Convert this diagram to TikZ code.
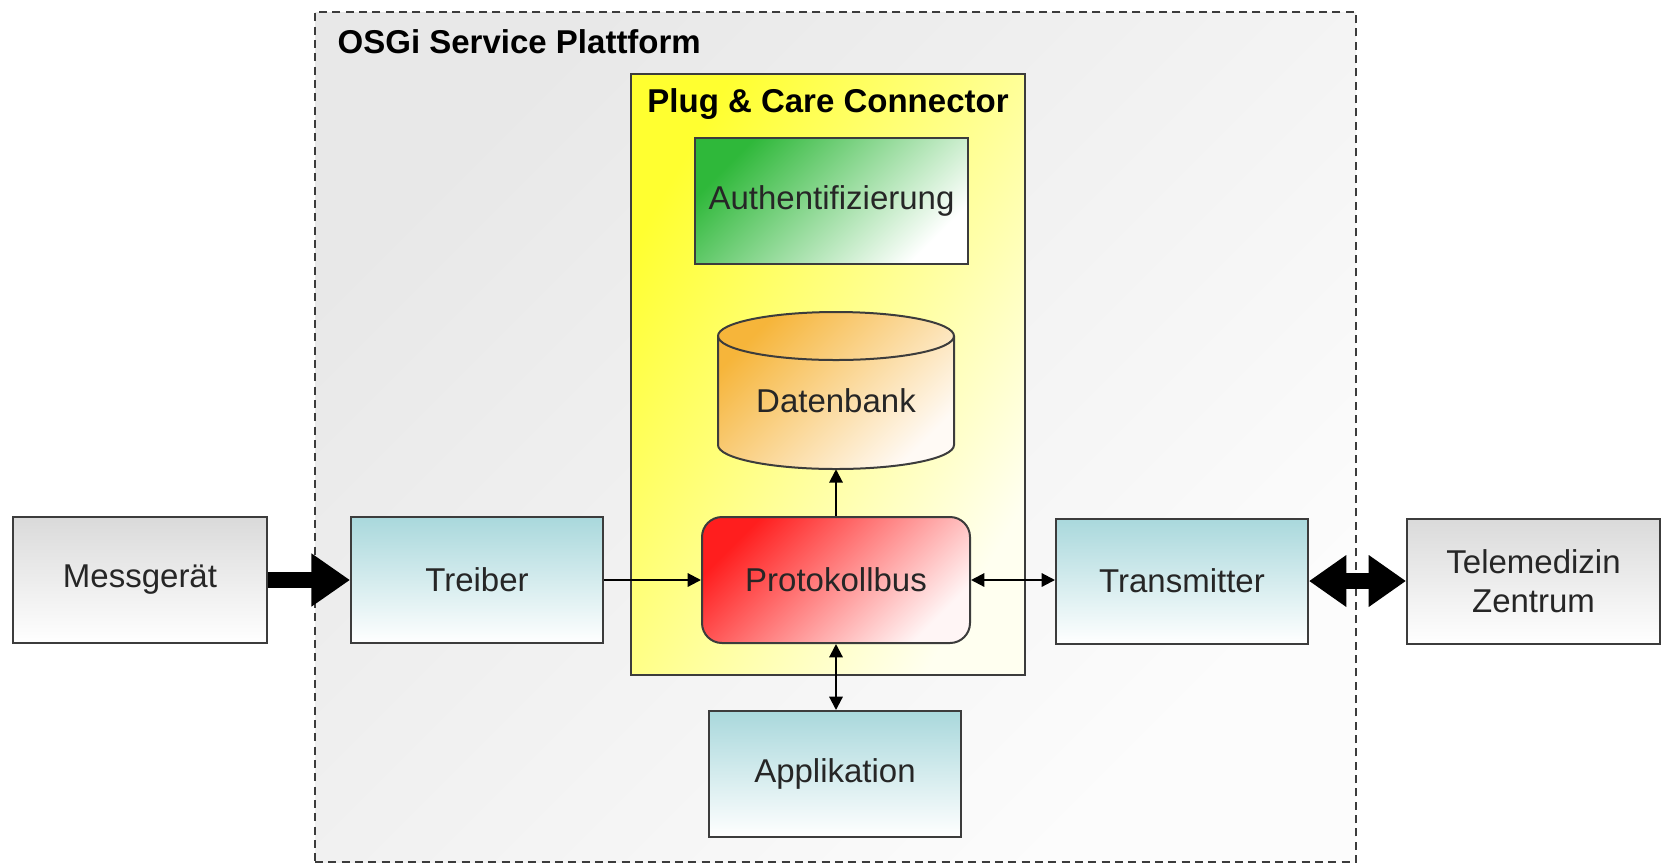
\documentclass[tikz,border=0pt]{standalone}
\usepackage{fontspec}
\setmainfont{Liberation Sans}
\usetikzlibrary{arrows.meta}
\definecolor{bordercol}{HTML}{3C3C3C}
\definecolor{textcol}{HTML}{262626}
\definecolor{tealtop}{HTML}{A9D8DC}
\definecolor{graytop}{HTML}{DADADA}
\definecolor{greentop}{HTML}{2FB83A}
\definecolor{orangetop}{HTML}{F6B53A}
\definecolor{redtop}{HTML}{FF1E1E}
\definecolor{yellowtop}{HTML}{FFFF30}
\definecolor{osgitop}{HTML}{E8E8E8}
\tikzset{
  bodyfont/.style={font=\fontsize{24.75}{29.25}\selectfont, text=textcol},
  basebox/.style={draw=bordercol, line width=1.5pt, bodyfont, align=center, inner sep=0pt},
  tealbox/.style={basebox, top color=tealtop, bottom color=white},
  graybox/.style={basebox, top color=graytop, bottom color=white},
  thinarrow/.style={line width=1.6pt, draw=black, -{Triangle[length=10pt,width=10pt]}},
  thinboth/.style={line width=1.6pt, draw=black, {Triangle[length=10pt,width=10pt]}-{Triangle[length=10pt,width=10pt]}},
  thickarrow/.style={line width=12pt, draw=black, -{Triangle[length=29pt,width=38pt]}},
  thickboth/.style={line width=12pt, draw=black, {Triangle[length=28pt,width=37pt]}-{Triangle[length=28pt,width=37pt]}},
  titlefont/.style={font=\fontsize{24.75}{29.25}\selectfont\bfseries, text=black},
}
\begin{document}
\begin{tikzpicture}[x=0.75pt,y=-0.75pt]
\useasboundingbox (0,0) rectangle (1662,865);
% OSGi platform
\node[draw=bordercol, line width=2pt, dash pattern=on 6pt off 4pt,
      top color=osgitop, bottom color=white!98!gray, shading angle=45,
      minimum width=780.75pt, minimum height=637.5pt, inner sep=0pt] (osgi) at (835.5,437) {};
\node[titlefont, anchor=west] (osgititle) at (333,42) {OSGi Service Plattform};
% Plug & Care
\node[draw=bordercol, line width=1.5pt, top color=yellowtop, bottom color=yellow!6!white, shading angle=60,
      minimum width=295.5pt, minimum height=450.75pt, inner sep=0pt] (plug) at (828,374.5) {};
\node[titlefont] (plugtitle) at (828,104) {Plug \& Care Connector};
% Datenbank cylinder
\path[draw=bordercol, line width=1.5pt, top color=orangetop, bottom color=orange!4!white, shading angle=45]
  (718,336) -- (718,445) arc[start angle=180, end angle=360, x radius=88.5pt, y radius=18pt]
  -- (954,336) arc[start angle=0, end angle=180, x radius=88.5pt, y radius=18pt] -- cycle;
\draw[bordercol, line width=1.5pt] (718,336) arc[start angle=180, end angle=360, x radius=88.5pt, y radius=18pt];
\node[bodyfont, minimum width=177pt, minimum height=102pt, inner sep=0pt] (db) at (836,401) {Datenbank};
% boxes
\node[basebox, top color=greentop, bottom color=white, shading angle=45,
      minimum width=204.75pt, minimum height=94.5pt] (auth) at (831.5,201) {Authentifizierung};
\node[basebox, rounded corners=15pt, top color=redtop, bottom color=red!4!white, shading angle=45,
      minimum width=201pt, minimum height=94.5pt] (proto) at (836,580) {Protokollbus};
\node[graybox, minimum width=190.5pt, minimum height=94.5pt] (mess) at (140,580) {Messgerät};
\node[tealbox, minimum width=189pt, minimum height=94.5pt] (treiber) at (477,580) {Treiber};
\node[tealbox, minimum width=189pt, minimum height=93.75pt] (trans) at (1182,581) {Transmitter};
\node[graybox, minimum width=189.75pt, minimum height=93.75pt] (tele) at (1533.5,581) {Telemedizin\\Zentrum};
\node[tealbox, minimum width=189pt, minimum height=94.5pt] (app) at (835,774) {Applikation};
% connectors
\draw[thickarrow] (mess.east) -- (treiber.west);
\draw[thinarrow] (treiber.east) -- (proto.west);
\draw[thinarrow] (proto.north) -- (db.south);
\draw[thinboth] (proto.east) -- (proto.east -| trans.west);
\draw[thinboth] (proto.south) -- (proto.south |- app.north);
\draw[thickboth] (trans.east) -- (tele.west);
\end{tikzpicture}
\end{document}
